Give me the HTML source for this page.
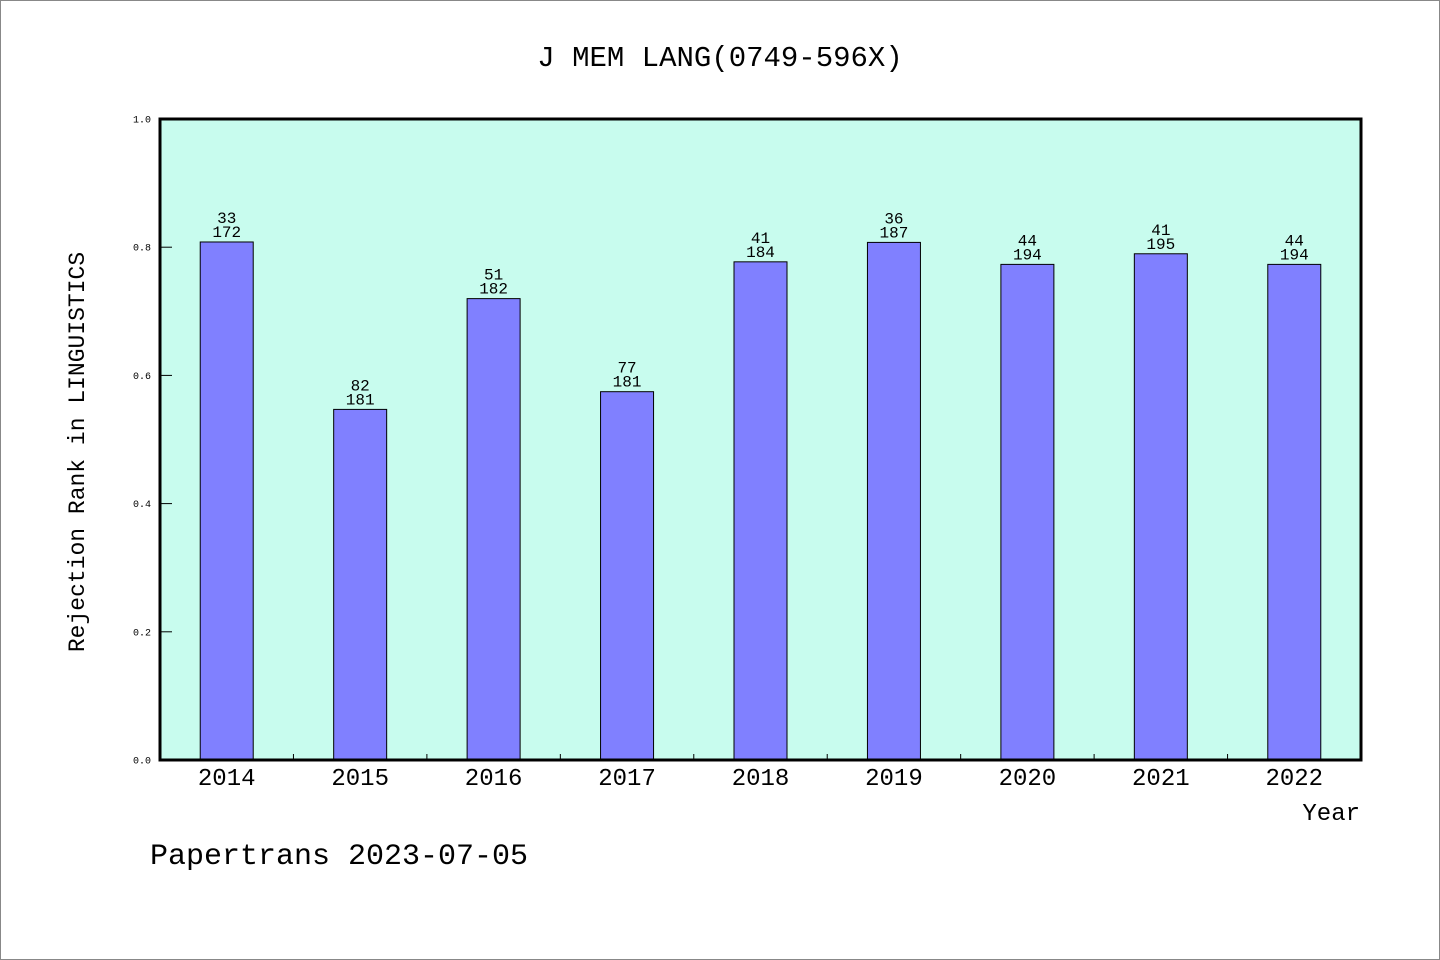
<!DOCTYPE html>
<html><head><meta charset="utf-8"><style>
html,body{margin:0;padding:0;background:#fff}
svg{display:block}
text{font-family:"Liberation Mono","DejaVu Sans Mono",monospace;fill:#000}
</style></head><body>
<svg width="1440" height="960" viewBox="0 0 1440 960">
<rect x="0.5" y="0.5" width="1439" height="959" fill="#fff" stroke="#888"/>
<text x="720" y="66" font-size="29" text-anchor="middle">J MEM LANG(0749-596X)</text>
<rect x="160" y="119" width="1201" height="641" fill="#c8fcee"/>
<g id="bars"></g>
<g id="ticks"></g>
<rect x="160" y="119" width="1201" height="641" fill="none" stroke="#000" stroke-width="3"/>
<text x="84" y="452" font-size="23" text-anchor="middle" transform="rotate(-90 84 452)">Rejection Rank in LINGUISTICS</text>
<text x="1360" y="820" font-size="24" text-anchor="end">Year</text>
<text x="150" y="864" font-size="30">Papertrans 2023-07-05</text>
<script>
const years=["2014","2015","2016","2017","2018","2019","2020","2021","2022"];
const ranks=[33,82,51,77,41,36,44,41,44];
const totals=[172,181,182,181,184,187,194,195,194];
const yTicks=[0,0.2,0.4,0.6,0.8,1.0];
const yTickLabels=["0.0","0.2","0.4","0.6","0.8","1.0"];
const X0=160,X1=1361,Y0=760,Y1=119;
const band=(X1-X0)/years.length;
const xs=i=>X0+(i+0.5)*band;
const ys=v=>Y0-(Y0-Y1)*v;
const NS="http://www.w3.org/2000/svg";
const bars=document.getElementById('bars'),ticks=document.getElementById('ticks');
function mk(tag,attrs,parent,txt){const e=document.createElementNS(NS,tag);for(const k in attrs)e.setAttribute(k,attrs[k]);if(txt!==undefined)e.textContent=txt;parent.appendChild(e);return e;}
years.forEach((y,i)=>{
 const v=1-ranks[i]/totals[i];
 const top=ys(v),cx=xs(i),w=53;
 const r=mk('rect',{x:cx-w/2,y:top,width:w,height:Y0-top,fill:'#8080ff',stroke:'#000','stroke-width':1},bars);
 
 
 const t1=mk('text',{x:cx,y:top-19,'font-size':16,'text-anchor':'middle'},bars,String(ranks[i]));
 
 
 const t2=mk('text',{x:cx,y:top-5,'font-size':16,'text-anchor':'middle'},bars,String(totals[i]));
 
 
 const xl=mk('text',{x:cx,y:785,'font-size':24,'text-anchor':'middle'},ticks,y);
 
 
 if(i>0){const l=mk('line',{x1:X0+i*band,x2:X0+i*band,y1:Y0,y2:Y0-6,stroke:'#000','stroke-width':1},ticks);
 
 }
});
yTicks.forEach((v,i)=>{
 const y=ys(v);
 const l=mk('line',{x1:X0,x2:X0+12,y1:y,y2:y,stroke:'#000','stroke-width':1},ticks);
 
 
 const t=mk('text',{x:151,y:y+3.5,'font-size':10,'text-anchor':'end'},ticks,yTickLabels[i]);
 
 
});
</script>
</svg>
</body></html>
